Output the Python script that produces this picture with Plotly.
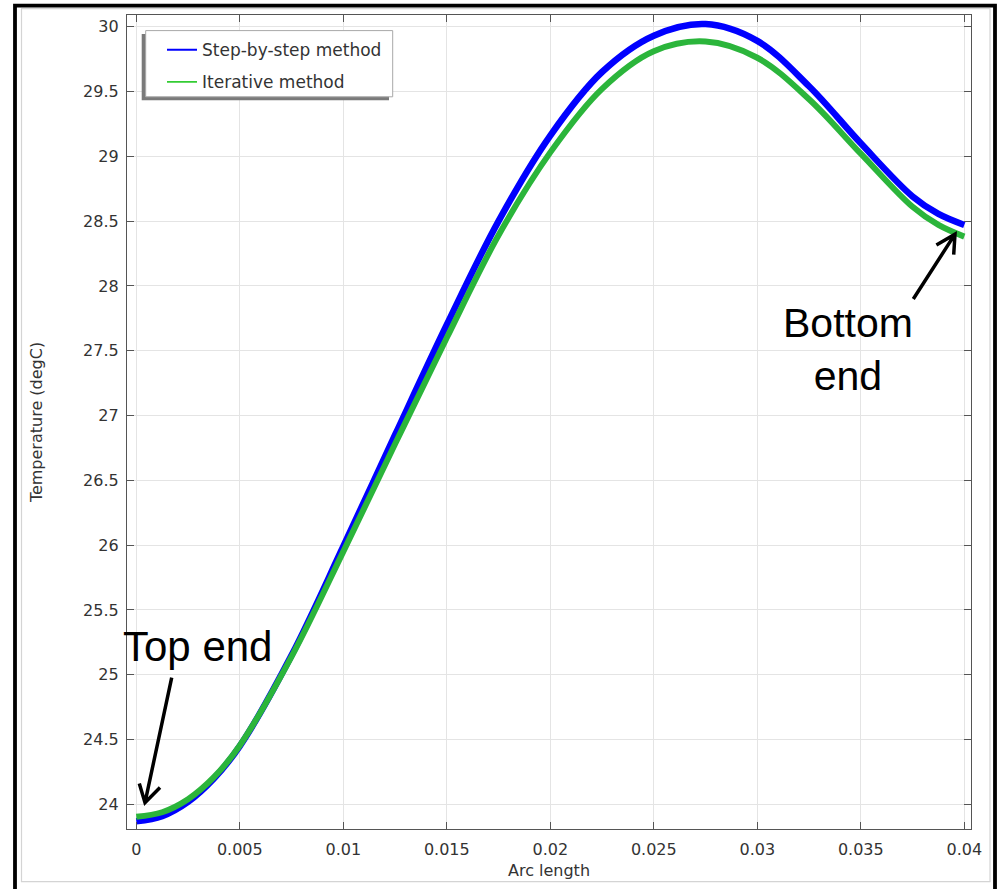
import plotly.graph_objects as go

# ---- data ----
arc = [0, 0.00125, 0.0025, 0.00375, 0.005, 0.0075, 0.01, 0.0125, 0.015, 0.0175, 0.02,
       0.0225, 0.025, 0.0275, 0.03, 0.0325, 0.035, 0.0375, 0.03875, 0.04]
t_step = [23.87, 23.91, 24.02, 24.20, 24.45, 25.15, 25.99, 26.85, 27.70, 28.50, 29.16,
          29.65, 29.93, 30.02, 29.89, 29.54, 29.10, 28.69, 28.555, 28.47]
t_iter = [23.905, 23.94, 24.04, 24.21, 24.455, 25.14, 25.95, 26.78, 27.60, 28.39, 29.03,
          29.52, 29.81, 29.885, 29.76, 29.44, 29.02, 28.61, 28.47, 28.38]

x_ticks = [0, 0.005, 0.01, 0.015, 0.02, 0.025, 0.03, 0.035, 0.04]
x_tick_text = ["0", "0.005", "0.01", "0.015", "0.02", "0.025", "0.03", "0.035", "0.04"]
y_ticks = [24, 24.5, 25, 25.5, 26, 26.5, 27, 27.5, 28, 28.5, 29, 29.5, 30]
y_tick_text = ["24", "24.5", "25", "25.5", "26", "26.5", "27", "27.5", "28", "28.5", "29", "29.5", "30"]

series_names = ["Step-by-step method", "Iterative method"]

# ---- layout geometry (pixels) ----
W, H = 999, 889
L, R, T, B = 127, 971, 15, 834


def px(xp):
    return (xp - L) / (R - L)


def py(yp):
    return (B - yp) / (B - T)


FONT = "DejaVu Sans"
BLUE = "#0000ff"
GREEN = "#2bb53b"

fig = go.Figure()
fig.add_trace(go.Scatter(x=arc, y=t_step, mode="lines", line=dict(color=BLUE, width=6.5, shape="spline"),
                         showlegend=False, name=series_names[0]))
fig.add_trace(go.Scatter(x=arc, y=t_iter, mode="lines", line=dict(color=GREEN, width=6, shape="spline"),
                         showlegend=False, name=series_names[1]))
# legend entries (thin lines as in the reference)
fig.add_trace(go.Scatter(x=[None], y=[None], mode="lines", line=dict(color=BLUE, width=1.8),
                         name=series_names[0], legendgroup="a"))
fig.add_trace(go.Scatter(x=[None], y=[None], mode="lines", line=dict(color="#33cc33", width=1.8),
                         name=series_names[1], legendgroup="b"))

shapes = []
# outer frame of the picture
shapes.append(dict(type="rect", xref="paper", yref="paper", x0=px(21.5), x1=px(990), y0=py(887), y1=py(8.5),
                   line=dict(color="#d4d4d4", width=1.2)))
shapes.append(dict(type="rect", xref="paper", yref="paper", x0=px(15), x1=px(995), y0=py(905), y1=py(5.5),
                   line=dict(color="black", width=3.8)))
# legend box with shadow
shapes.append(dict(type="rect", xref="paper", yref="paper", x0=px(141.7), x1=px(389), y0=py(100.7), y1=py(34),
                   line=dict(width=0), fillcolor="#7a7a7a", layer="above"))
shapes.append(dict(type="rect", xref="paper", yref="paper", x0=px(145.7), x1=px(392.7), y0=py(97.3), y1=py(30.7),
                   line=dict(color="#a8a8a8", width=1), fillcolor="white", layer="above"))


def arrow(tail, tip, w1, w2):
    path = (f"M{px(tail[0])},{py(tail[1])} L{px(tip[0])},{py(tip[1])} "
            f"M{px(w1[0])},{py(w1[1])} L{px(tip[0])},{py(tip[1])} L{px(w2[0])},{py(w2[1])}")
    return dict(type="path", xref="paper", yref="paper", path=path, line=dict(color="black", width=3.5),
                layer="above")


shapes.append(arrow((171.7, 681.7), (145, 807.5), (139.3, 788.3), (160, 792.2)))
shapes.append(arrow((913.3, 300.7), (955, 235.5), (936.4, 246.5), (953.7, 256.2)))

annotations = [
    dict(text="Top end", xref="paper", yref="paper", x=px(197), y=py(650), xanchor="center", yanchor="middle",
         showarrow=False, font=dict(family="Liberation Sans, Arial", size=42, color="black")),
    dict(text="Bottom<br>end", xref="paper", yref="paper", x=px(847.7), y=py(352), xanchor="center",
         yanchor="middle", showarrow=False, font=dict(family="Liberation Sans, Arial", size=41, color="black")),
]

axis_common = dict(
    showline=True, linecolor="#555555", linewidth=1.3, mirror="ticks",
    ticks="inside", ticklen=7, tickwidth=1.3, tickcolor="#555555",
    showgrid=True, gridcolor="#e4e4e4", gridwidth=1.2, zeroline=False,
    tickfont=dict(family=FONT, size=16, color="#333333"),
)

fig.update_layout(
    width=W, height=H,
    margin=dict(l=L, r=W - R, t=T, b=H - B, pad=0),
    paper_bgcolor="white", plot_bgcolor="white",
    font=dict(family=FONT, color="#333333"),
    xaxis=dict(range=[-0.000449, 0.040324], tickvals=x_ticks, ticktext=x_tick_text,
               title=dict(text="Arc length", font=dict(family=FONT, size=16, color="#333333"), standoff=6),
               ticklabelstandoff=6, **axis_common),
    yaxis=dict(range=[23.8106, 30.0897], tickvals=y_ticks, ticktext=y_tick_text,
               title=dict(text="Temperature (degC)", font=dict(family=FONT, size=16, color="#333333"), standoff=36),
               ticklabelstandoff=4, **axis_common),
    legend=dict(x=px(162), y=py(32.3), xanchor="left", yanchor="top", bgcolor="rgba(0,0,0,0)", borderwidth=0,
                font=dict(family=FONT, size=17, color="#333333"), traceorder="grouped", tracegroupgap=7),
    shapes=shapes,
    annotations=annotations,
)

fig.write_html("out.html", config={"displayModeBar": False},
               post_script="document.body.style.margin='0';document.body.style.overflow='hidden';")
